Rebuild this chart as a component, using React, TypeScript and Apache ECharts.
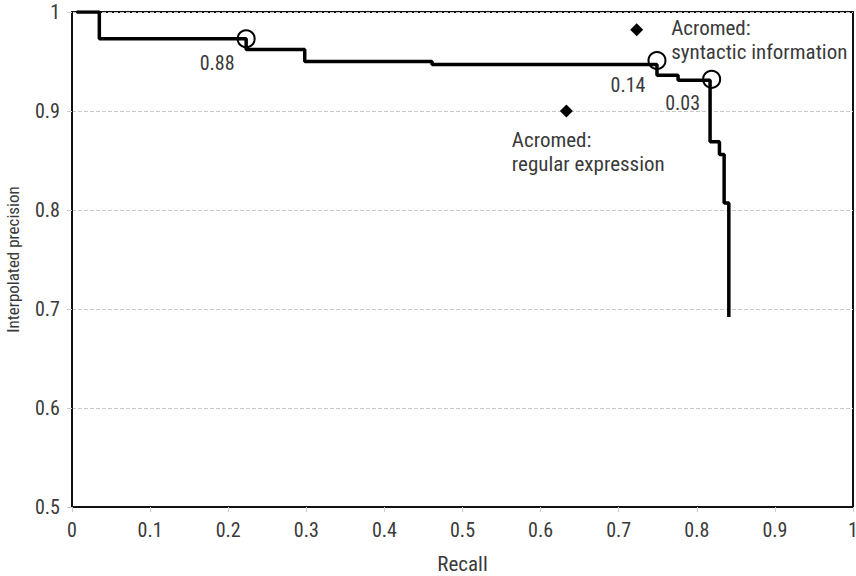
import React, { useEffect, useRef } from "react";
import * as echarts from "echarts";

// Step curve: precision level held between consecutive recall breakpoints
const stepRecall = [0.006, 0.035, 0.223, 0.298, 0.461, 0.749, 0.776, 0.817, 0.829, 0.835, 0.841];
const stepPrecision = [1.0, 0.973, 0.962, 0.95, 0.947, 0.936, 0.931, 0.869, 0.856, 0.807];
const curveEndPrecision = 0.692;

// Threshold markers on the curve
const thresholdRecall = [0.223, 0.749, 0.819];
const thresholdPrecision = [0.973, 0.951, 0.932];
const thresholdLabels = ["0.88", "0.14", "0.03"];

// Acromed points
const acromedNames = ["Acromed:\nsyntactic information", "Acromed:\nregular expression"];
const acromedRecall = [0.723, 0.633];
const acromedPrecision = [0.982, 0.9];

const xTicks = ["0", "0.1", "0.2", "0.3", "0.4", "0.5", "0.6", "0.7", "0.8", "0.9", "1"];
const yTicks = ["0.5", "0.6", "0.7", "0.8", "0.9", "1"];

const FONT = "'Liberation Sans Narrow', 'Roboto Condensed', Roboto, sans-serif";
const TEXT_COLOR = "#3a3a3a";

// label placement for acromed annotations (relative to symbol box)
const acromedLabelPos: [number, number][] = [
  [41, -7],
  [-48, 23],
];

export default function App() {
  const ref = useRef<HTMLDivElement>(null);
  useEffect(() => {
    if (!ref.current) return;
    const chart = echarts.init(ref.current, undefined, { renderer: "svg" });

    const curve: [number, number][] = [];
    for (let i = 0; i < stepPrecision.length; i++) {
      curve.push([stepRecall[i], stepPrecision[i]]);
      curve.push([stepRecall[i + 1], stepPrecision[i]]);
    }
    curve.push([stepRecall[stepRecall.length - 1], curveEndPrecision]);

    const xLabel = (v: number) => {
      const idx = Math.round(v * 10);
      return xTicks[idx] ?? "";
    };
    const yLabel = (v: number) => {
      const idx = Math.round((v - 0.5) * 10);
      return yTicks[idx] ?? "";
    };

    chart.setOption({
      animation: false,
      textStyle: { fontFamily: FONT },
      grid: {
        left: 72,
        right: 3,
        top: 12,
        bottom: 69,
        outerBoundsMode: "none",
        containLabel: false,
        show: true,
        borderColor: "#111",
        borderWidth: 2,
        backgroundColor: "#fff",
      },
      xAxis: {
        type: "value",
        min: 0,
        max: 1,
        interval: 0.1,
        name: "Recall",
        nameLocation: "middle",
        nameGap: 46,
        nameTextStyle: { fontFamily: FONT, fontSize: 21, color: TEXT_COLOR },
        axisLine: { show: true, onZero: false, lineStyle: { color: "#111", width: 2 } },
        axisTick: { show: true, length: 5, lineStyle: { color: "#ccc" } },
        axisLabel: {
          formatter: xLabel,
          fontFamily: FONT,
          fontSize: 20,
          color: TEXT_COLOR,
          margin: 13,
        },
        splitLine: { show: false },
      },
      yAxis: {
        type: "value",
        min: 0.5,
        max: 1,
        interval: 0.1,
        name: "Interpolated precision",
        nameLocation: "middle",
        nameGap: 51,
        nameTextStyle: { fontFamily: FONT, fontSize: 17, color: TEXT_COLOR },
        axisLine: { show: true, onZero: false, lineStyle: { color: "#111", width: 2 } },
        axisTick: { show: true, length: 5, lineStyle: { color: "#ccc" } },
        axisLabel: {
          formatter: yLabel,
          fontFamily: FONT,
          fontSize: 20,
          color: TEXT_COLOR,
          margin: 12,
        },
        splitLine: { show: true, lineStyle: { color: "#c8c8c8", type: "dashed", width: 1 } },
      },
      series: [
        {
          type: "line",
          data: curve,
          symbol: "none",
          lineStyle: { color: "#000", width: 3.5 },
          z: 3,
        },
        {
          type: "scatter",
          data: thresholdRecall.map((r, i) => ({
            value: [r, thresholdPrecision[i]],
            label: { formatter: thresholdLabels[i] },
          })),
          symbol: "circle",
          symbolSize: 17,
          itemStyle: { color: "rgba(0,0,0,0)", borderColor: "#000", borderWidth: 2, opacity: 1 },
          label: {
            show: true,
            position: "inside",
            offset: [-29, 24],
            fontFamily: FONT,
            fontSize: 20,
            color: TEXT_COLOR,
          },
          z: 4,
        },
        {
          type: "scatter",
          data: acromedRecall.map((r, i) => ({
            value: [r, acromedPrecision[i]],
            label: {
              formatter: acromedNames[i],
              position: acromedLabelPos[i],
            },
          })),
          symbol: "diamond",
          symbolSize: 13,
          itemStyle: { color: "#000", opacity: 1 },
          label: {
            show: true,
            align: "left",
            verticalAlign: "top",
            fontFamily: FONT,
            fontSize: 21,
            lineHeight: 24,
            color: TEXT_COLOR,
          },
          z: 4,
        },
      ],
    });
    return () => chart.dispose();
  }, []);
  return <div ref={ref} style={{ width: 856, height: 576, position: "absolute", left: 0, top: 0 }} />;
}
